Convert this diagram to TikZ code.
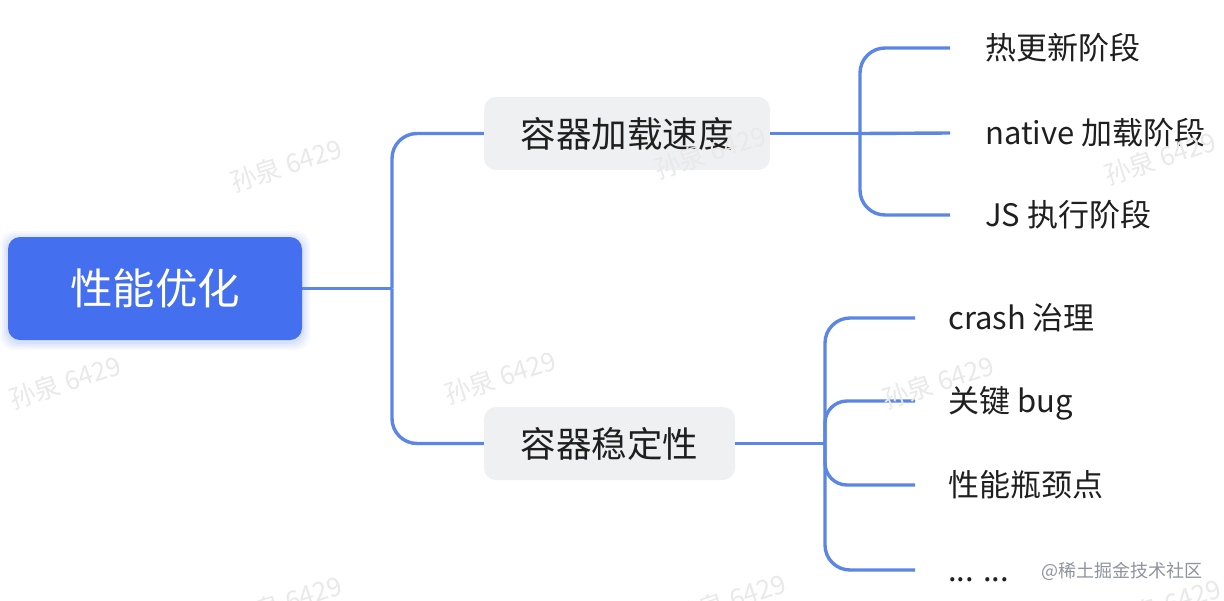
\documentclass[tikz,border=0pt]{standalone}
\usepackage{fontspec}
\setmainfont{Noto Sans CJK SC}
\definecolor{rootblue}{HTML}{4470F0}
\definecolor{linecol}{HTML}{5B86E6}
\definecolor{midfill}{HTML}{EFF0F2}
\definecolor{txt}{HTML}{1F1F1F}
\definecolor{wm}{HTML}{E9E9E9}
\definecolor{credit}{HTML}{8E939C}
\begin{document}
\begin{tikzpicture}[x=1pt,y=-1pt,
  rootbox/.style={fill=rootblue, rounded corners=12pt, minimum width=294pt, minimum height=103pt,
    text=white, font=\fontsize{42.5}{42.5}\selectfont, inner sep=0pt, text height=37pt, text depth=5pt},
  midbox/.style={fill=midfill, rounded corners=12pt, minimum height=73pt, text=txt,
    font=\fontsize{35.5}{35.5}\selectfont, inner sep=0pt, text height=31pt, text depth=4pt},
  leaf/.style={anchor=west, text=txt, font=\fontsize{31}{31}\selectfont, inner sep=0pt,
    text height=27pt, text depth=3.5pt},
  conn/.style={draw=linecol, line width=3.4pt},
  wmark/.style={text=wm, rotate=18, font=\fontsize{26}{26}\selectfont},
]
\useasboundingbox (0,0) rectangle (1224,600);
\fill[white] (0,0) rectangle (1224,600);

% root shadow
\foreach \s/\o in {8/0.04,6/0.05,4/0.06,2/0.07}{
  \fill[rootblue, opacity=\o, rounded corners=14pt] (8-\s,239-\s) rectangle (302+\s,342+\s);
}
\node[rootbox] (root) at (155,288.5) {性能优化};
\node[midbox, minimum width=286pt] (m1) at (627,133.5) {容器加载速度};
\node[midbox, minimum width=251pt] (m2) at (609.5,443.5) {容器稳定性};

\node[leaf] (a1) at (985,48) {热更新阶段};
\node[leaf] (a2) at (985,133) {native 加载阶段};
\node[leaf] (a3) at (985,215) {JS 执行阶段};

\node[leaf] (b1) at (948,318) {crash 治理};
\node[leaf] (b2) at (948,401) {关键 bug};
\node[leaf] (b3) at (948,485) {性能瓶颈点};
\node[leaf] (b4) at (948,570) {... ...};

% junction points
\coordinate (j0) at (392,288.5);
\coordinate (j1) at (860,133.5);
\coordinate (j2) at (825,443.5);

% root to middle nodes
\draw[conn] (root.east) -- (j0);
\draw[conn, rounded corners=25pt] (j0) |- (m1.west);
\draw[conn, rounded corners=25pt] (j0) |- (m2.west);

% first group
\draw[conn] (m1.east) -- (j1);
\draw[conn, rounded corners=25pt] (j1) |- ([xshift=-35pt]a1.west);
\draw[conn] (j1) -- ([xshift=-35pt]a2.west);
\draw[conn, rounded corners=25pt] (j1) |- ([xshift=-35pt]a3.west);

% second group
\draw[conn] (m2.east) -- (j2);
\draw[conn, rounded corners=25pt] (j2) |- ([xshift=-33pt]b1.west);
\draw[conn, rounded corners=22pt] (j2) |- ([xshift=-33pt]b2.west);
\draw[conn, rounded corners=22pt] (j2) |- ([xshift=-33pt]b3.west);
\draw[conn, rounded corners=25pt] (j2) |- ([xshift=-33pt]b4.west);

% watermarks
\foreach \x/\y [count=\i] in {286/165, 710/152, 1160/158, 65/382, 500/377, 938/382, 286/602, 730/600, 1165/605}{
  \node[wmark] (w\i) at (\x,\y) {孙泉 6429};
}

\node[text=credit, font=\fontsize{18}{18}\selectfont, anchor=east] (credit) at (1206,571) {@稀土掘金技术社区};
\end{tikzpicture}
\end{document}
